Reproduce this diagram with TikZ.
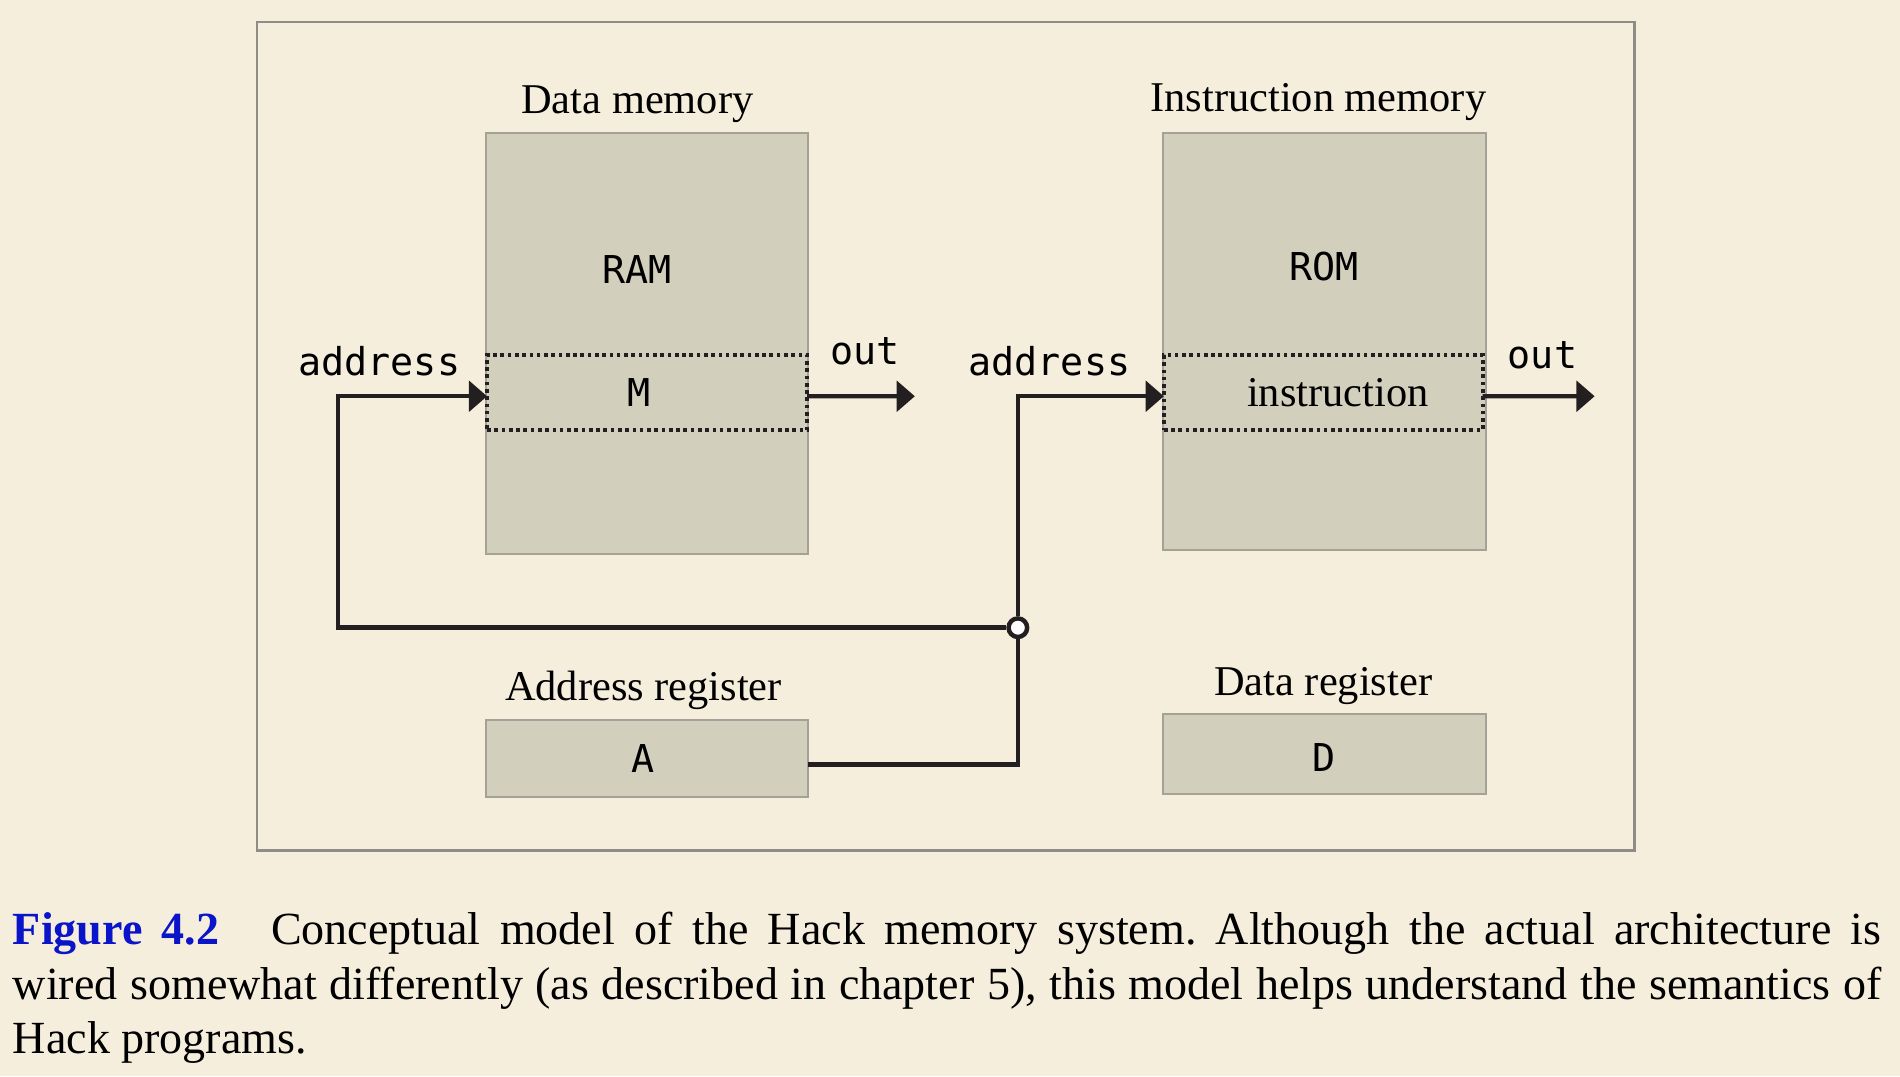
\documentclass[tikz,border=0pt]{standalone}
\usepackage{fontspec}
\setmainfont{Liberation Serif}
\setmonofont{DejaVu Sans Mono}
\usepackage{tikz}
\usetikzlibrary{arrows.meta}

\definecolor{paper}{HTML}{F5EEDC}
\definecolor{boxfill}{HTML}{D2CFBD}
\definecolor{boxline}{HTML}{A3A198}
\definecolor{framecol}{HTML}{8F8D86}
\definecolor{wirecol}{HTML}{231F20}
\definecolor{figblue}{HTML}{0A14C8}

\begin{document}
\begin{tikzpicture}[x=0.3pt,y=-0.3pt,
	membox/.style={draw=boxline,fill=boxfill,line width=0.5pt,inner sep=0pt,outer sep=0pt},
	cellbox/.style={draw=wirecol,line width=1pt,dash pattern=on 0.9pt off 0.9pt,inner sep=0pt,outer sep=0pt,minimum height=18.6pt},
	title/.style={font=\fontsize{10.5}{12}\selectfont},
	port/.style={font=\fontsize{9.5}{11}\ttfamily},
	wire/.style={draw=wirecol,line width=1.1pt},
	arr/.style={wire,-{Triangle[length=4.5pt,width=7.5pt]}}]
	\useasboundingbox[fill=paper] (0,0) rectangle (1568,888);
	\draw[framecol,line width=0.6pt] (212,18) rectangle (1349,702);
	% memories
	\node[membox,minimum width=79.8pt,minimum height=104.1pt] (ram) at (534,283.5) {};
	\node[membox,minimum width=79.8pt,minimum height=103.2pt] (rom) at (1093,282) {};
	\node[port] (ramlbl) at (526,222) {RAM};
	\node[port] (romlbl) at (1093,220) {ROM};
	\node[cellbox,minimum width=79.2pt] (m) at (534,324) {};
	\node[port] (mlbl) at (527,324) {M};
	\node[cellbox,minimum width=78.9pt] (instr) at (1092,324) {};
	\node[title] (instrlbl) at (1104,324) {instruction};
	\node[title] (dmem) at (526,86) {Data memory};
	\node[title] (imem) at (1088,84) {Instruction memory};
	% registers
	\node[membox,minimum width=79.8pt,minimum height=19.2pt] (a) at (534,626) {};
	\node[port] (albl) at (531,626) {A};
	\node[membox,minimum width=79.8pt,minimum height=19.8pt] (d) at (1093,622) {};
	\node[port] (dlbl) at (1093,625) {D};
	\node[title] (areg) at (531,570) {Address register};
	\node[title] (dreg) at (1092,566) {Data register};
	% ports
	\node[port] (addr1) at (313,298) {address};
	\node[port] (out1) at (714,290) {out};
	\node[port] (addr2) at (866,298) {address};
	\node[port] (out2) at (1273,293) {out};
	% wiring
	\node[circle,draw=wirecol,fill=white,line width=1.1pt,inner sep=0pt,minimum size=4.6pt] (jn) at (840,518) {};
	\coordinate (bend) at (279,518);
	\coordinate (o1) at (755,327);
	\coordinate (o2) at (1316,327);
	\draw[wire] ([yshift=-1.5pt]a.east) -| (jn.south);
	\draw[arr] (jn.west) -- (bend) |- ([yshift=-0.9pt]m.west);
	\draw[arr] (jn.north) |- ([yshift=-0.9pt]instr.west);
	\draw[arr] ([yshift=-0.9pt]m.east) -- (o1);
	\draw[arr] ([yshift=-0.9pt]instr.east) -- (o2);
	% caption
	\node[anchor=base west,inner sep=0pt] (cap) at (10,753) {\parbox[t]{462.6pt}{\frenchspacing\fontsize{11.4}{13.5}\selectfont
		{\color{figblue}\bfseries Figure 4.2}\hspace{0.7em} Conceptual model of the Hack memory system. Although the actual architecture is\linebreak
		wired somewhat differently (as described in chapter 5), this model helps understand the semantics of\linebreak
		Hack programs.}};
\end{tikzpicture}
\end{document}
